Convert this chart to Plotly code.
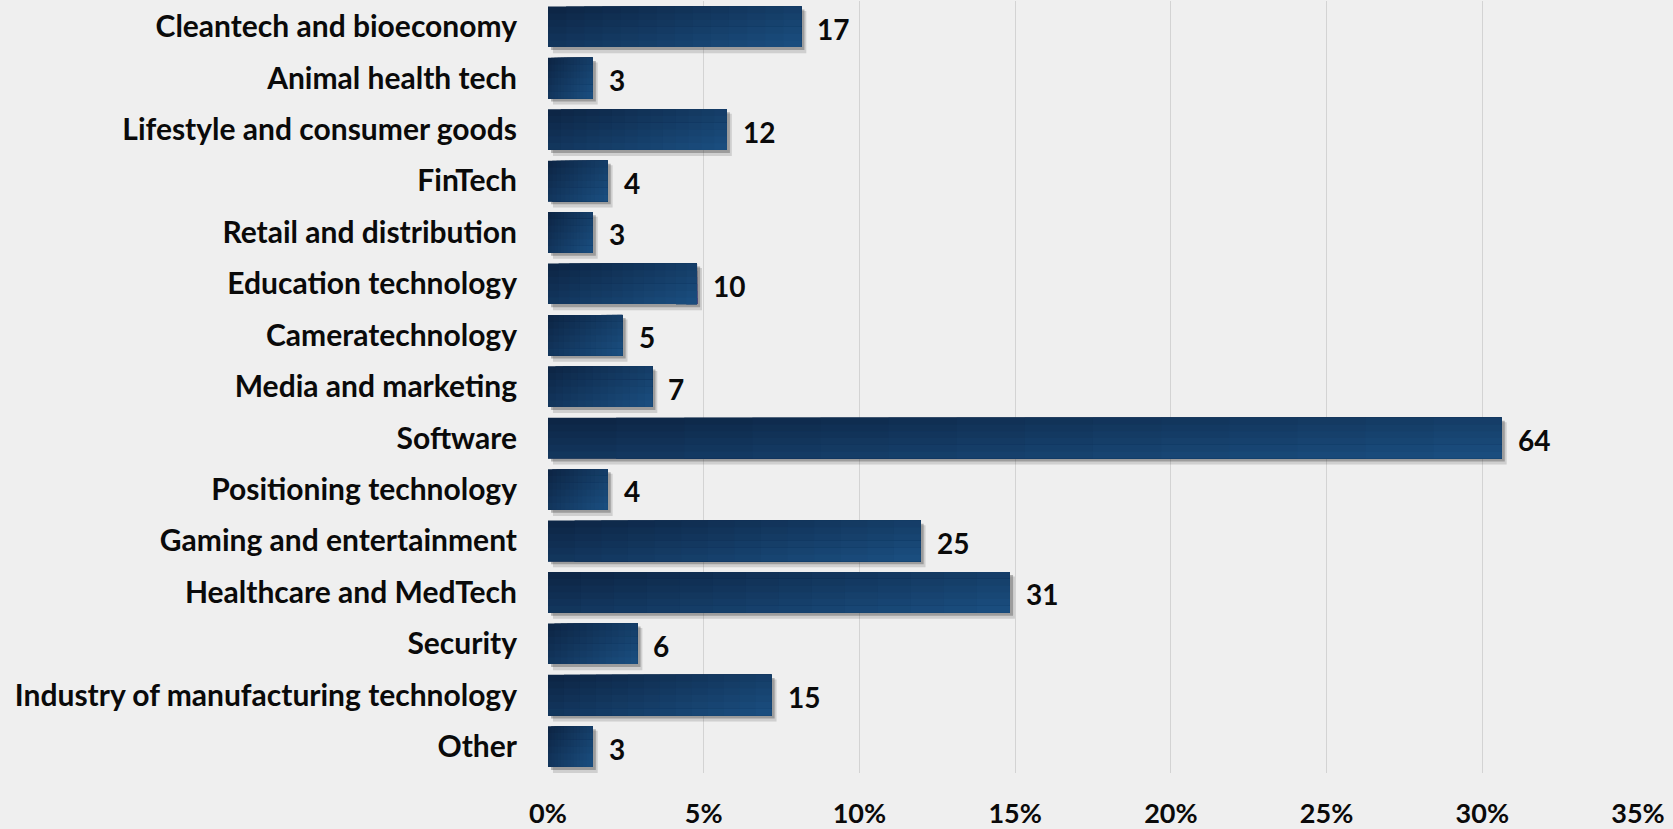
import plotly.graph_objects as go

# Startup counts by sector
sectors = [
    "Cleantech and bioeconomy",
    "Animal health tech",
    "Lifestyle and consumer goods",
    "FinTech",
    "Retail and distribution",
    "Education technology",
    "Cameratechnology",
    "Media and marketing",
    "Software",
    "Positioning technology",
    "Gaming and entertainment",
    "Healthcare and MedTech",
    "Security",
    "Industry of manufacturing technology",
    "Other",
]
counts = [17, 3, 12, 4, 3, 10, 5, 7, 64, 4, 25, 31, 6, 15, 3]
x_ticks = [0, 5, 10, 15, 20, 25, 30, 35]
x_tick_labels = ["0%", "5%", "10%", "15%", "20%", "25%", "30%", "35%"]

total = sum(counts)
share = [c / total * 100 for c in counts]

FONT = "Lato, Open Sans, sans-serif"
BAR_W = 0.79
DARK = (13, 38, 70)
LIGHT = (26, 77, 126)

fig = go.Figure()

# soft drop shadow under each bar
for alpha, dx, dy, extra in [(0.18, 0.16, 0.09, 0.03), (0.35, 0.10, 0.06, 0.0)]:
    fig.add_trace(go.Bar(
        y=sectors, x=share, base=[dx] * len(share), orientation="h",
        width=BAR_W + extra, offset=-BAR_W / 2 + dy,
        marker=dict(color=f"rgba(60,60,60,{alpha})", line=dict(width=0)),
        hoverinfo="skip", showlegend=False,
    ))

# diagonal gradient fill: overlapping layers, each running to the bar's far end
# and bottom edge, painted from the dark top-left corner towards the light one
NX, NY = 14, 6
for j in range(NY):
    for i in range(NX):
        t = (i / (NX - 1)) * 0.6 + (j / (NY - 1)) * 0.4
        col = tuple(round(DARK[k] + (LIGHT[k] - DARK[k]) * t) for k in range(3))
        fig.add_trace(go.Bar(
            y=sectors,
            x=[s * (NX - i) / NX for s in share],
            base=[s * i / NX for s in share],
            orientation="h",
            width=BAR_W * (NY - j) / NY,
            offset=-BAR_W / 2 + j * BAR_W / NY,
            marker=dict(color="rgb(%d,%d,%d)" % col, line=dict(width=0)),
            hoverinfo="skip", showlegend=False,
        ))

for s, c, name in zip(share, counts, sectors):
    fig.add_annotation(
        x=s, y=name, text=str(c), showarrow=False,
        xanchor="left", yanchor="middle", xshift=14, yshift=-2,
        font=dict(family=FONT, size=28, color="#0a0a0a", weight="bold"),
    )

fig.update_layout(
    width=1673, height=829,
    margin=dict(l=548, r=35, t=1, b=56, autoexpand=False),
    paper_bgcolor="#efefef",
    plot_bgcolor="rgba(0,0,0,0)",
    barmode="overlay",
    showlegend=False,
    xaxis=dict(
        range=[0, 35], tickvals=x_ticks, ticktext=x_tick_labels,
        showgrid=True, gridcolor="#d3d3d3", gridwidth=1, zeroline=False,
        showline=False, ticks="", ticklabelstandoff=22,
        tickfont=dict(family=FONT, size=27, color="#0a0a0a", weight="bold"),
        fixedrange=True,
    ),
    yaxis=dict(
        categoryorder="array", categoryarray=sectors, autorange="reversed",
        showgrid=False, zeroline=False, showline=False, ticks="",
        ticklabelstandoff=30,
        tickfont=dict(family=FONT, size=30, color="#0a0a0a", weight="bold"),
        fixedrange=True,
    ),
)

fig.write_html("out.html")
